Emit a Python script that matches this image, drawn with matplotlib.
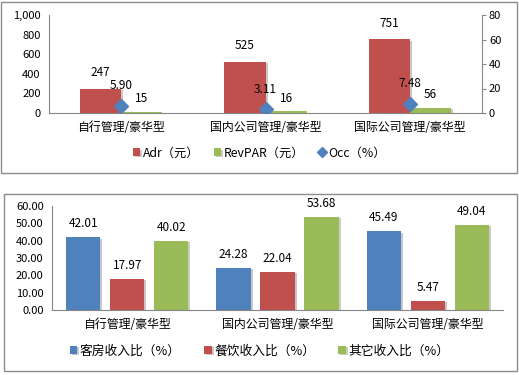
import matplotlib.pyplot as plt
import numpy as np
from matplotlib.patches import Rectangle
import matplotlib.patheffects as path_effects

plt.rcParams['font.family'] = ['Noto Sans CJK SC', 'DejaVu Sans']

categories = ['自行管理/豪华型', '国内公司管理/豪华型', '国际公司管理/豪华型']
adr = [247, 525, 751]
revpar = [15, 16, 56]
occ = [5.90, 3.11, 7.48]
top_labels = ['Adr（元）', 'RevPAR（元）', 'Occ（%）']

room = [42.01, 24.28, 45.49]
food = [17.97, 22.04, 5.47]
other = [40.02, 53.68, 49.04]
bottom_labels = ['客房收入比（%）', '餐饮收入比（%）', '其它收入比（%）']

RED, GREEN, BLUE = '#C0504D', '#9BBB59', '#4F81BD'
AXC = '#868686'
W, H = 519, 375

fig = plt.figure(figsize=(W / 100, H / 100), dpi=100)

def box(x0, y0, x1, y1):
    return [x0 / W, 1 - y1 / H, (x1 - x0) / W, (y1 - y0) / H]

# chart borders
for x0, y0, x1, y1 in [(1, 2, 517, 173), (4, 194, 517, 371)]:
    fig.patches.append(Rectangle((x0 / W, 1 - y1 / H), (x1 - x0) / W, (y1 - y0) / H,
                                 transform=fig.transFigure, fill=False,
                                 edgecolor='#8c8c8c', linewidth=1))

shadow = [path_effects.SimplePatchShadow(offset=(1.5, -1), alpha=0.25), path_effects.Normal()]

def style(ax):
    for s in ['top', 'right']:
        ax.spines[s].set_visible(False)
    ax.spines['left'].set_color(AXC)
    ax.spines['bottom'].set_color(AXC)
    ax.tick_params(axis='y', length=0, labelsize=8, pad=6)
    ax.tick_params(axis='x', length=0, labelsize=8.6, pad=6)
    ax.set_facecolor('none')

# ---- top chart
ax = fig.add_axes(box(49, 15, 482, 113))
x = np.arange(3)
bw = 0.285
b1 = ax.bar(x - bw / 2, adr, bw, color=RED, label=top_labels[0], path_effects=shadow)
b2 = ax.bar(x + bw / 2, revpar, bw, color=GREEN, label=top_labels[1], path_effects=shadow)
ax.set_xlim(-0.5, 2.5)
ax.set_ylim(0, 1000)
ax.set_yticks(range(0, 1001, 200))
ax.set_yticklabels([f'{v:,}' for v in range(0, 1001, 200)])
ax.set_xticks(x)
ax.set_xticklabels(categories)
style(ax)
for rect, v in zip(b1, adr):
    ax.annotate(f'{v}', (rect.get_x() + rect.get_width() / 2, v), xytext=(0, 9),
                textcoords='offset points', ha='center', fontsize=8.5)
for rect, v in zip(b2, revpar):
    ax.annotate(f'{v}', (rect.get_x() + rect.get_width() / 2, v), xytext=(0, 7),
                textcoords='offset points', ha='center', fontsize=8.5)

ax2 = ax.twinx()
ax2.set_ylim(0, 80)
ax2.set_yticks(range(0, 81, 20))
d = ax2.plot(x, occ, linestyle='none', marker='D', markersize=7, color=BLUE, label=top_labels[2])
for xi, v in zip(x, occ):
    ax2.annotate(f'{v:.2f}', (xi, v), xytext=(0, 12), textcoords='offset points',
                 ha='center', fontsize=8.5)
for s in ['top', 'left', 'bottom']:
    ax2.spines[s].set_visible(False)
ax2.spines['right'].set_color(AXC)
ax2.tick_params(axis='y', length=3, color=AXC, labelsize=8, pad=2)

fig.legend([b1, b2, d[0]], top_labels, loc='center', bbox_to_anchor=(0.5, 1 - 153 / H),
           ncol=3, frameon=False, fontsize=8.8, handlelength=0.6, handleheight=0.6,
           handletextpad=0.2, columnspacing=1.2, markerscale=0.75)

# ---- bottom chart
bx = fig.add_axes(box(52, 206, 503, 310))
bw = 0.227
pitch = 0.293
c1 = bx.bar(x - pitch, room, bw, color=BLUE, path_effects=shadow)
c2 = bx.bar(x, food, bw, color=RED, path_effects=shadow)
c3 = bx.bar(x + pitch, other, bw, color=GREEN, path_effects=shadow)
bx.set_xlim(-0.5, 2.5)
bx.set_ylim(0, 60)
bx.set_yticks(range(0, 61, 10))
bx.set_yticklabels([f'{v:.2f}' for v in range(0, 61, 10)])
bx.set_xticks(x)
bx.set_xticklabels(categories)
style(bx)
for bars, vals in [(c1, room), (c2, food), (c3, other)]:
    for rect, v in zip(bars, vals):
        bx.annotate(f'{v:.2f}', (rect.get_x() + rect.get_width() / 2, v), xytext=(0, 7),
                    textcoords='offset points', ha='center', fontsize=8.5)

fig.legend([c1, c2, c3], bottom_labels, loc='center', bbox_to_anchor=(0.5, 1 - 351 / H),
           ncol=3, frameon=False, fontsize=9.2, handlelength=0.6, handleheight=0.6,
           handletextpad=0.2, columnspacing=1.8)

fig.savefig('out.png', dpi=100)
